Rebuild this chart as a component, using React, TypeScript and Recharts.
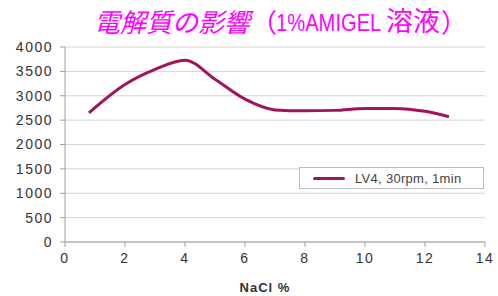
import React from "react";
import { LineChart, Line, XAxis, YAxis, CartesianGrid } from "recharts";

// NaCl 濃度 (%) と粘度
const naclPercent = [0.8, 2, 3, 4, 5, 6, 7, 8, 9, 10, 11, 12, 12.8];
const viscosity = [2650, 3230, 3540, 3730, 3340, 2930, 2710, 2690, 2700, 2740, 2740, 2680, 2570];
const xTicks = [0, 2, 4, 6, 8, 10, 12, 14];
const yTicks = [0, 500, 1000, 1500, 2000, 2500, 3000, 3500, 4000];
const seriesName = "LV4, 30rpm, 1min";

const data = naclPercent.map((x, i) => ({ x, y: viscosity[i] }));

const LINE_COLOR = "#a3135c";
const TITLE_COLOR = "#ff00ff";
const FONT = "'Liberation Sans', Arial, sans-serif";
const CJK = "'Noto Sans CJK JP', sans-serif";

const tickStyle = { fill: "#333", fontSize: 14, fontFamily: FONT, letterSpacing: 1.5 };

function Title() {
  const cjk: React.CSSProperties = { position: "absolute", top: 8, fontFamily: CJK, fontSize: 26, lineHeight: "26px", color: TITLE_COLOR, whiteSpace: "nowrap" };
  return (
    <>
      <span style={{ ...cjk, left: 94, fontStyle: "italic" }}>電解質の影響</span>
      <span style={{ ...cjk, left: 251 }}>（</span>
      <span style={{
        position: "absolute", left: 276, top: 11, fontFamily: FONT, fontSize: 24, lineHeight: "24px",
        color: TITLE_COLOR, whiteSpace: "nowrap", transform: "scaleX(0.84)", transformOrigin: "left center",
      }}>1%AMIGEL</span>
      <span style={{ ...cjk, left: 386, fontSize: 27, top: 7 }}>溶液</span>
      <span style={{ ...cjk, left: 441 }}>）</span>
    </>
  );
}

function LegendBox() {
  return (
    <div style={{
      position: "absolute",
      left: 299,
      top: 167,
      width: 185,
      height: 22,
      border: "1px solid #bdbdbd",
      background: "#fff",
      display: "flex",
      alignItems: "center",
      boxSizing: "border-box",
      fontFamily: FONT,
      fontSize: 13,
      letterSpacing: 0.3,
      color: "#444",
    }}>
      <div style={{ width: 32, height: 3, borderRadius: 2, background: LINE_COLOR, marginLeft: 13, marginRight: 10 }} />
      <span>{seriesName}</span>
    </div>
  );
}

export default function App() {
  return (
    <div style={{ position: "fixed", left: 0, top: 0, width: 498, height: 296, background: "#fff" }}>
      <Title />
      <LineChart width={498} height={296} data={data} margin={{ top: 47, right: 13, bottom: 0, left: 0 }}>
        <CartesianGrid vertical={false} stroke="#d4d4d4" />
        <XAxis
          dataKey="x"
          type="number"
          domain={[0, 14]}
          ticks={xTicks}
          height={54}
          stroke="#a0a0a0"
          tickSize={5}
          tickMargin={6}
          tick={tickStyle}
          label={{ value: "NaCl %", position: "insideBottom", offset: 4, dx: -10, fill: "#333", fontSize: 13, fontWeight: "bold", fontFamily: FONT, letterSpacing: 1 }}
        />
        <YAxis
          type="number"
          domain={[0, 4000]}
          ticks={yTicks}
          width={65}
          stroke="#a0a0a0"
          tickSize={5}
          tickMargin={7}
          tick={tickStyle}
        />
        <Line
          type="monotone"
          dataKey="y"
          name={seriesName}
          stroke={LINE_COLOR}
          strokeWidth={3}
          dot={false}
          isAnimationActive={false}
        />
      </LineChart>
      <LegendBox />
    </div>
  );
}
